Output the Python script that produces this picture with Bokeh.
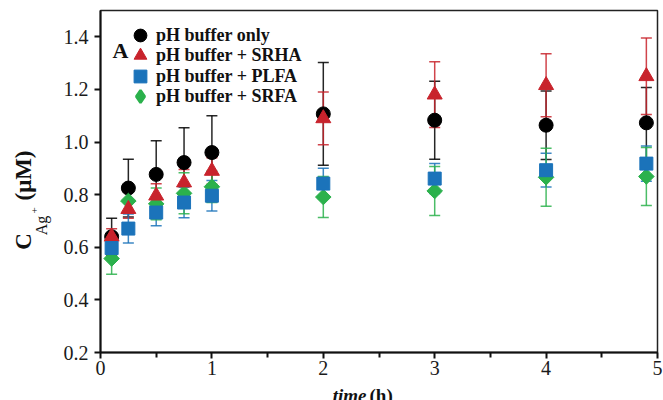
import math
from bokeh.plotting import figure
from bokeh.layouts import row, column
from bokeh.models import (ColumnDataSource, Range1d, FixedTicker, Whisker, TeeHead,
                          Legend, LegendItem, Label)
from bokeh.embed import file_html
from bokeh.resources import INLINE

# ---------------- data ----------------
time_h = [0.1, 0.25, 0.5, 0.75, 1.0, 2.0, 3.0, 4.0, 4.9]

series_names = ["pH buffer only", "pH buffer + SRHA", "pH buffer + PLFA", "pH buffer + SRFA"]

buffer_only = [0.64, 0.825, 0.877, 0.922, 0.96, 1.107, 1.083, 1.064, 1.073]
buffer_only_err = [0.07, 0.11, 0.128, 0.132, 0.14, 0.195, 0.148, 0.13, 0.134]

srha = [0.64, 0.745, 0.796, 0.846, 0.89, 1.09, 1.18, 1.216, 1.25]
srha_err = [0.03, 0.035, 0.045, 0.05, 0.05, 0.10, 0.125, 0.12, 0.145]

plfa = [0.597, 0.671, 0.732, 0.770, 0.796, 0.842, 0.861, 0.893, 0.918]
plfa_err = [0.04, 0.055, 0.05, 0.058, 0.058, 0.058, 0.057, 0.064, 0.067]

srfa = [0.557, 0.776, 0.765, 0.805, 0.83, 0.791, 0.814, 0.866, 0.869]
srfa_err = [0.06, 0.04, 0.06, 0.078, 0.06, 0.078, 0.093, 0.11, 0.11]

x_ticks = [0, 1, 2, 3, 4, 5]
x_minor_ticks = [0.5, 1.5, 2.5, 3.5, 4.5]
x_tick_labels = ["0", "1", "2", "3", "4", "5"]
y_ticks = [0.2, 0.4, 0.6, 0.8, 1.0, 1.2, 1.4]
y_tick_labels = ["0.2", "0.4", "0.6", "0.8", "1.0", "1.2", "1.4"]

x_title = ["time", "(h)"]
y_title = ["C", "Ag", "+", "(μM)"]

# ---------------- styling ----------------
FONT = "Liberation Serif"
BLACK = "#000000"
RED = "#c8232c"
BLUE = "#1b73ba"
GREEN = "#2bb14c"
INK = "#111111"

W, H = 663, 400
TITLE_W = 52          # left strip carrying the rotated y-axis title
MAIN_H = 382          # main plot height
FRAME_TOP, FRAME_BOTTOM = 10, 352
XTITLE_H = H - MAIN_H  # bottom strip carrying the x-axis title


def blank_strip(width, height, top=0, bottom=0):
    f = figure(width=width, height=height, output_backend="svg", toolbar_location=None,
               x_range=Range1d(0, 1), y_range=Range1d(0, 1),
               x_axis_location=None, y_axis_location=None,
               min_border_left=0, min_border_right=0, min_border_top=top,
               min_border_bottom=bottom)
    f.outline_line_color = None
    f.grid.visible = False
    f.background_fill_color = "white"
    f.border_fill_color = "white"
    return f


p = figure(width=W - TITLE_W, height=MAIN_H, output_backend="svg", toolbar_location=None,
           x_range=Range1d(0, 5), y_range=Range1d(0.2, 1.5),
           min_border_left=100 - TITLE_W, min_border_right=6, min_border_top=FRAME_TOP,
           min_border_bottom=MAIN_H - FRAME_BOTTOM)
p.background_fill_color = "white"
p.border_fill_color = "white"
p.outline_line_color = "#222222"
p.outline_line_width = 1.5
p.grid.visible = False

for ax in (p.xaxis[0], p.yaxis[0]):
    ax.axis_line_width = 2
    ax.axis_line_color = INK
    ax.major_tick_line_width = 2
    ax.major_tick_line_color = INK
    ax.major_tick_in = 0
    ax.major_tick_out = 6
    ax.minor_tick_in = 0
    ax.minor_tick_out = 5
    ax.minor_tick_line_width = 2
    ax.minor_tick_line_color = INK
    ax.major_label_text_font = FONT
    ax.major_label_text_font_size = "20px"
    ax.major_label_text_color = "#1a1a1a"

p.xaxis.ticker = FixedTicker(ticks=x_ticks, minor_ticks=x_minor_ticks)
p.xaxis.major_label_overrides = {t: l for t, l in zip(x_ticks, x_tick_labels)}
p.xaxis.major_label_standoff = 2
p.yaxis.ticker = FixedTicker(ticks=y_ticks)
p.yaxis.major_label_overrides = {t: l for t, l in zip(y_ticks, y_tick_labels)}
p.yaxis.minor_tick_line_color = None
p.yaxis.major_label_standoff = 6


def make_source(vals, errs):
    return ColumnDataSource(dict(
        t=time_h, y=vals,
        upper=[v + e for v, e in zip(vals, errs)],
        lower=[v - e for v, e in zip(vals, errs)],
    ))


series = [
    (buffer_only, buffer_only_err, BLACK, "circle", 14, 0.0),
    (srha, srha_err, RED, "triangle", 15, 0.0),
    (plfa, plfa_err, BLUE, "square", 13, 0.0),
    (srfa, srfa_err, GREEN, "square", 11, math.pi / 4),
]

sources = [make_source(v, e) for v, e, *_ in series]

for src, (v, e, c, m, s, a) in zip(sources, series):
    w = Whisker(base="t", upper="upper", lower="lower", source=src,
                line_color=c, line_width=1.5, line_alpha=0.85,
                upper_head=TeeHead(size=11, line_color=c, line_width=1.5, line_alpha=0.85),
                lower_head=TeeHead(size=11, line_color=c, line_width=1.5, line_alpha=0.85))
    p.add_layout(w)

renderers = {}
draw_order = [0, 3, 1, 2]
for i in draw_order:
    v, e, c, m, s, a = series[i]
    renderers[i] = p.scatter(x="t", y="y", source=sources[i], marker=m, size=s, angle=a,
                             fill_color=c, line_color=c, line_width=1)

# legend key for the rotated-square series: a diamond (no point is drawn in the plot)
legend_key_srfa = p.scatter(x=[float("nan")], y=[float("nan")], marker="diamond", size=15,
                            fill_color=GREEN, line_color=GREEN, line_width=2.5)
legend_renderers = [renderers[0], renderers[1], renderers[2], legend_key_srfa]

# one legend per row so the rows can sit closer than the glyph boxes
legend_offsets = [301, 281, 260, 240]
for i in range(4):
    lg = Legend(items=[LegendItem(label=series_names[i], renderers=[legend_renderers[i]])],
                location=(24, legend_offsets[i]), orientation="vertical",
                glyph_width=32, glyph_height=32, spacing=0, padding=0, margin=0,
                label_standoff=0, label_height=20,
                label_text_font=FONT, label_text_font_style="bold",
                label_text_font_size="18px", label_text_color=INK,
                background_fill_alpha=0, border_line_alpha=0)
    p.add_layout(lg)

# panel letter
p.add_layout(Label(x=12, y=302, x_units="screen", y_units="screen", text="A",
                   text_font=FONT, text_font_style="bold", text_font_size="22px",
                   text_color=INK, text_align="left", text_baseline="alphabetic"))

# left strip: rotated y-axis title C_{Ag+} (μM)
ty = blank_strip(TITLE_W, MAIN_H, top=FRAME_TOP, bottom=MAIN_H - FRAME_BOTTOM)
rot = math.pi / 2
for txt, style, size, x, y in [(y_title[0], "bold", "23px", 23, 111),
                               (y_title[1], "normal", "16px", 41, 127),
                               (y_title[2], "normal", "11px", 34, 142),
                               (y_title[3], "bold", "23px", 23, 177)]:
    ty.add_layout(Label(x=x, y=y, x_units="screen", y_units="screen", text=txt,
                        text_font=FONT, text_font_style=style, text_font_size=size,
                        text_color=INK, text_align="center", text_baseline="middle", angle=rot))

# bottom strip: x-axis title "time (h)"
tx = blank_strip(W, XTITLE_H)
tx.add_layout(Label(x=366, y=5, x_units="screen", y_units="screen", text=x_title[0],
                    text_font=FONT, text_font_style="bold italic", text_font_size="19px",
                    text_color=INK, text_align="right", text_baseline="alphabetic"))
tx.add_layout(Label(x=369, y=5, x_units="screen", y_units="screen", text=x_title[1],
                    text_font=FONT, text_font_style="bold", text_font_size="19px",
                    text_color=INK, text_align="left", text_baseline="alphabetic"))

layout = column(row(ty, p, spacing=0), tx, spacing=0)
open("out.html", "w").write(file_html(layout, INLINE))
